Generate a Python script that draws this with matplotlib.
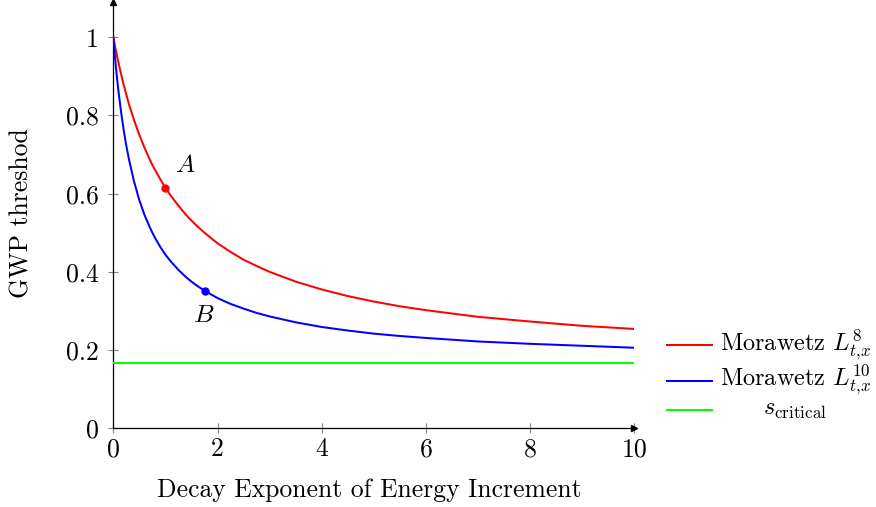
import matplotlib
matplotlib.use("Agg")
import matplotlib.pyplot as plt
from matplotlib.lines import Line2D

# Values
x_vals = [0, 0.025, 0.05, 0.075, 0.1, 0.15, 0.2, 0.25, 0.3, 0.4, 0.5, 0.6, 0.7, 0.75, 0.8, 0.9,
          1, 1.1, 1.25, 1.4, 1.5, 1.6, 1.75, 2, 2.25, 2.5, 2.75, 3, 3.5, 4, 4.5, 5, 5.5, 6, 7, 8, 9, 10]
red_vals = [1.000, 0.982, 0.966, 0.950, 0.934, 0.905, 0.878, 0.853, 0.829, 0.787, 0.750, 0.717,
            0.687, 0.673, 0.661, 0.637, 0.615, 0.595, 0.569, 0.545, 0.531, 0.518, 0.500, 0.473,
            0.451, 0.431, 0.415, 0.400, 0.375, 0.355, 0.338, 0.324, 0.312, 0.302, 0.285, 0.273,
            0.262, 0.254]
blue_vals = [1.000, 0.960, 0.924, 0.891, 0.861, 0.808, 0.762, 0.722, 0.688, 0.630, 0.583, 0.545,
             0.514, 0.500, 0.487, 0.464, 0.444, 0.427, 0.405, 0.386, 0.375, 0.365, 0.352, 0.333,
             0.318, 0.306, 0.295, 0.286, 0.271, 0.259, 0.250, 0.242, 0.236, 0.231, 0.222, 0.216,
             0.211, 0.206]
s_critical = 0.1667
point_A = (1.0, 0.615)
point_B = (1.75, 0.352)
xticks = [0, 2, 4, 6, 8, 10]
yticks = [0, 0.2, 0.4, 0.6, 0.8, 1.0]
ytick_labels = ["0", "0.2", "0.4", "0.6", "0.8", "1"]
legend_labels = [r"Morawetz $L^{8}_{t{,}x}$", r"Morawetz $L^{10}_{t{,}x}$", r"$s_{\mathrm{critical}}$"]

plt.rcParams["font.family"] = ["cmr10", "DejaVu Serif"]
plt.rcParams["mathtext.fontset"] = "cm"
plt.rcParams["axes.unicode_minus"] = False

W, H = 876, 507
fig = plt.figure(figsize=(W / 100, H / 100), dpi=100)
left, right, bottom, top = 113.3 / W, 634.5 / W, 1 - 428.3 / H, 1 - 2 / H
ax = fig.add_axes([left, bottom, right - left, top - bottom])
ax.set_xlim(0, 10)
ax.set_ylim(0, 1.09)

lw = 1.45
ax.plot(x_vals, red_vals, color="#ff0000", lw=lw, zorder=3, solid_joinstyle="round")
ax.plot(x_vals, blue_vals, color="#0000ff", lw=lw, zorder=3, solid_joinstyle="round")
ax.plot([0, 10], [s_critical, s_critical], color="#00ff00", lw=lw, zorder=3)
ax.plot(*point_A, "o", color="#ff0000", ms=5, zorder=4)
ax.plot(*point_B, "o", color="#0000ff", ms=5, zorder=4)
ax.text(1.39, 0.673, r"$A$", fontsize=18.5, ha="center", va="center")
ax.text(1.74, 0.29, r"$B$", fontsize=18.5, ha="center", va="center")

for s in ["top", "right"]:
    ax.spines[s].set_visible(False)
for s in ["left", "bottom"]:
    ax.spines[s].set_linewidth(0.9)
ax.plot(1, 0, marker=">", color="k", ms=5, transform=ax.transAxes, clip_on=False, zorder=5)
ax.plot(0, 1, marker="^", color="k", ms=5, transform=ax.transAxes, clip_on=False, zorder=5)

ax.set_xticks(xticks)
ax.set_xticklabels([str(t) for t in xticks])
ax.set_yticks(yticks)
ax.set_yticklabels(ytick_labels)
ax.tick_params(direction="inout", length=7, width=0.8, color="#808080", labelsize=18.5)
ax.tick_params(axis="x", pad=3)
ax.tick_params(axis="y", pad=7)

fig.text(369 / W, 1 - 490 / H, "Decay Exponent of Energy Increment", fontsize=18.5,
         ha="center", va="center")
fig.text(22 / W, 1 - 213 / H, "GWP threshod", fontsize=18.5, rotation=90,
         ha="center", va="center")

# Manual legend
colors = ["#ff0000", "#0000ff", "#00ff00"]
ys = [345, 380.5, 410]
for c, lab, yp in zip(colors, legend_labels, ys):
    yf = 1 - yp / H
    fig.add_artist(Line2D([667 / W, 712 / W], [yf, yf], color=c, lw=lw))
    fig.text(795 / W, yf, lab, fontsize=17.5, ha="center", va="center")

fig.savefig("out.png", dpi=100)
